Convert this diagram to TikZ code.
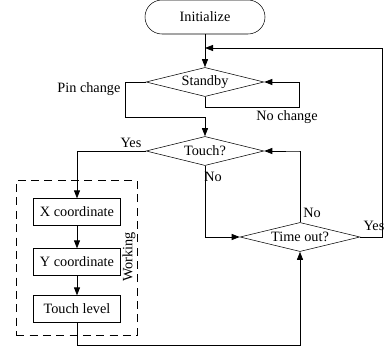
\documentclass[tikz,border=0pt]{standalone}
\usepackage{fontspec}
\setmainfont{Liberation Serif}
\usepackage{tikz}
\usetikzlibrary{shapes.geometric, arrows.meta, calc}

\begin{document}
\begin{tikzpicture}[
        x=0.75pt, y=-0.75pt,
        every node/.style={font=\fontsize{10.7}{12}\selectfont},
        terminal/.style={draw, rounded corners=12.7pt, minimum width=90pt, minimum height=25.5pt, inner sep=0pt},
        decision/.style={draw, diamond, aspect=4, inner sep=0pt, minimum width=88.5pt, minimum height=21.8pt},
        process/.style={draw, minimum width=65pt, minimum height=20pt, inner sep=0pt},
        arrow/.style={-{Triangle[length=6pt, width=4.5pt]}, line width=0.6pt},
        lbl/.style={inner sep=1pt}
    ]
    \useasboundingbox (0,0) rectangle (386,353);

    % Main column
    \node[terminal] (init) at (205,17) {Initialize};
    \node[decision] (standby) at (205,82) {Standby};
    \node[decision] (touch) at (205,151) {Touch?};
    \node[decision, minimum width=90pt] (timeout) at (300,237) {Time out?};

    % Working group
    \node[draw, dashed, dash pattern=on 6pt off 4pt, minimum width=90.5pt, minimum height=116pt] (work) at (76.5,257.5) {};
    \node[process] (xc) at (77,212) {X coordinate};
    \node[process] (yc) at (77,262) {Y coordinate};
    \node[process] (tl) at (77,309) {Touch level};
    \node[rotate=90, lbl] (worklbl) at (129,257) {Working};

    \coordinate (back) at (205,48);

    % Labels
    \node[lbl, anchor=east] (pinlbl) at (122,89) {Pin change};
    \node[lbl] (nclbl) at (287,117) {No change};
    \node[lbl] (yeslbl) at (131,143) {Yes};
    \node[lbl] (nolbl) at (213,177) {No};
    \node[lbl] (tnolbl) at (312,213) {No};
    \node[lbl] (tyeslbl) at (374,226) {Yes};

    % Connectors
    \draw[arrow] (init) -- (standby);
    \draw[arrow] (standby.south) -- ++(0,11) -| ($(standby.east)+(35,0)$) -- (standby.east);
    \draw[arrow] (standby.west) -- ++(-20,0) -- ++(0,35) -| (touch.north);
    \draw[arrow] (touch.west) -| (xc.north);
    \draw[arrow] (touch.south) |- (timeout.west);
    \draw[arrow] (timeout.north) |- ($(touch.east)+(35,0)$) -- (touch.east);
    \draw[arrow] (timeout.east) -- ++(22,0) |- (back);
    \draw[arrow] (xc) -- (yc);
    \draw[arrow] (yc) -- (tl);
    \draw[arrow] (tl.south) -- ++(0,23) -| (timeout.south);

    \end{tikzpicture}
\end{document}
